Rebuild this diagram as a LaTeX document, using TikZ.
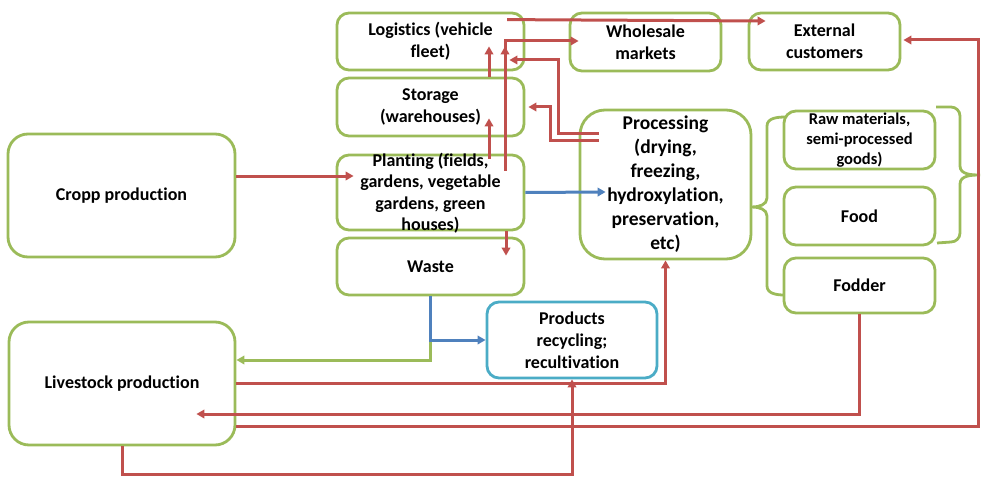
\documentclass[tikz,border=0pt]{standalone}
\usepackage{fontspec}
\setmainfont{Carlito}[Ligatures={NoCommon}]
\usetikzlibrary{arrows.meta,calc}
\definecolor{boxgreen}{HTML}{9BBB59}
\definecolor{arrred}{HTML}{C0504D}
\definecolor{arrblue}{HTML}{4F81BD}
\definecolor{boxblue}{HTML}{4BACC6}
\begin{document}
\begin{tikzpicture}[x=1pt,y=-1pt,
  box/.style={draw=boxgreen, line width=2.8pt, fill=white, rounded corners=12pt,
    align=center, inner sep=0pt, font=\bfseries\fontsize{18}{22}\selectfont},
  bigbox/.style={box, rounded corners=20pt},
  txt/.style={align=center, inner sep=0pt, font=\bfseries\fontsize{18}{21.5}\selectfont},
  redarr/.style={draw=arrred, line width=3pt, -{Triangle[length=8pt,width=8.5pt]}},
  bluearr/.style={draw=arrblue, line width=3pt, -{Triangle[length=8pt,width=8.5pt]}},
  greenarr/.style={draw=boxgreen, line width=3pt, -{Triangle[length=8pt,width=8.5pt]}},
  brace/.style={draw=boxgreen, line width=2.8pt}
]
\useasboundingbox (0,0) rectangle (981,476);

% boxes
\node[bigbox, minimum width=227pt, minimum height=123pt] (cropp) at (121.5,195.5) {Cropp production};
\node[bigbox, minimum width=226pt, minimum height=123pt] (livestock) at (122,383.5) {Livestock production};
\node[box, minimum width=187pt, minimum height=57pt] (logistics) at (430.5,41.5) {Logistics (vehicle\\fleet)};
\node[box, minimum width=187pt, minimum height=58pt] (storage) at (430.5,107) {Storage\\(warehouses)};
\node[box, minimum width=187pt, minimum height=75pt] (planting) at (430.5,192.5) {};
\node[box, minimum width=187pt, minimum height=57pt] (waste) at (430.5,266.5) {Waste};
\node[box, minimum width=151pt, minimum height=58pt] (wholesale) at (645.5,42) {Wholesale\\markets};
\node[box, minimum width=151pt, minimum height=57pt] (external) at (824.5,41.5) {External\\customers};
\node[box, rounded corners=25pt, minimum width=171pt, minimum height=149pt,
  font=\bfseries\fontsize{19.5}{24}\selectfont] (processing) at (665.5,184.5)
  {Processing\\(drying,\\freezing,\\hydroxylation,\\preservation,\\etc)};
\node[box, minimum width=151pt, minimum height=58pt,
  font=\bfseries\fontsize{16.5}{20}\selectfont] (raw) at (859.5,140) {Raw materials,\\semi-processed\\goods)};
\node[box, minimum width=151pt, minimum height=58pt] (food) at (859.5,216) {Food};
\node[box, minimum width=151pt, minimum height=55pt] (fodder) at (859.5,285.5) {Fodder};
\node[box, draw=boxblue, minimum width=170pt, minimum height=76pt] (products) at (572,340)
  {Products\\recycling;\\recultivation};

% braces
\draw[brace] (786,117) to[out=180,in=90] (767,126) -- (767,198) to[out=-90,in=0] (752,207)
  to[out=0,in=90] (767,216) -- (767,286) to[out=-90,in=180] (784,295);
\draw[brace] (936,107) -- (951,107) to[out=0,in=90] (960,116) -- (960,166)
  to[out=-90,in=180] (980,175) to[out=180,in=90] (960,184) -- (960,233)
  to[out=-90,in=0] (951,242) -- (937,243);

% connectors
\draw[redarr] ($(cropp.east)+(0,-19.5)$) -- ($(planting.west)+(18,-16.5)$);
\draw[redarr] ($(planting.north)+(58.5,5)$) -- ($(storage.south)+(58.5,-19)$);
\draw[redarr] ($(storage.north)+(58.5,0)$) -- ($(logistics.south)+(58.5,-25)$);
\draw[redarr] ($(planting.north)+(74.5,17)$) -- ($(logistics.south)+(74.5,-25)$);
\draw[redarr] ($(planting.north)+(74.5,17)$) |- ($(wholesale.west)+(10,-1)$);
\draw[redarr] ($(logistics.north)+(76.5,8)$) -- ($(external.west)+(18,-20.5)$);
\draw[redarr] ($(processing.west)+(20,-44.5)$) -- ++(-48,0) |- ($(storage.east)+(3,0)$);
\draw[redarr] ($(processing.west)+(20,-51.5)$) -- ++(-40,0) |- ($(logistics.east)+(-16,18.5)$);
\draw[redarr] ($(planting.south)+(75.5,0)$) -- ($(waste.north)+(75.5,19)$);
\draw[bluearr] ($(planting.east)+(0,0)$) -- ($(processing.west)+(27,7.5)$);
\draw[greenarr] (waste.south) |- ($(livestock.east)+(0,-23.5)$);
\draw[bluearr] (waste.south) |- (products.west);
\draw[redarr] (livestock.east) -| (processing.south);
\draw[redarr] (fodder.south) |- ($(livestock.east)+(-40,30.5)$);
\draw[redarr] ($(livestock.east)+(0,42.5)$) -- ($(livestock.east)+(742,42.5)$) |- ($(external.east)+(2,-1.5)$);
\draw[redarr] (livestock.south) -- ++(0,28) -| (products.south);

% planting text (overflows its box)
\node[txt] (plantingtxt) at (430.5,193) {Planting (fields,\\gardens, vegetable\\gardens, green\\houses)};
\end{tikzpicture}
\end{document}
